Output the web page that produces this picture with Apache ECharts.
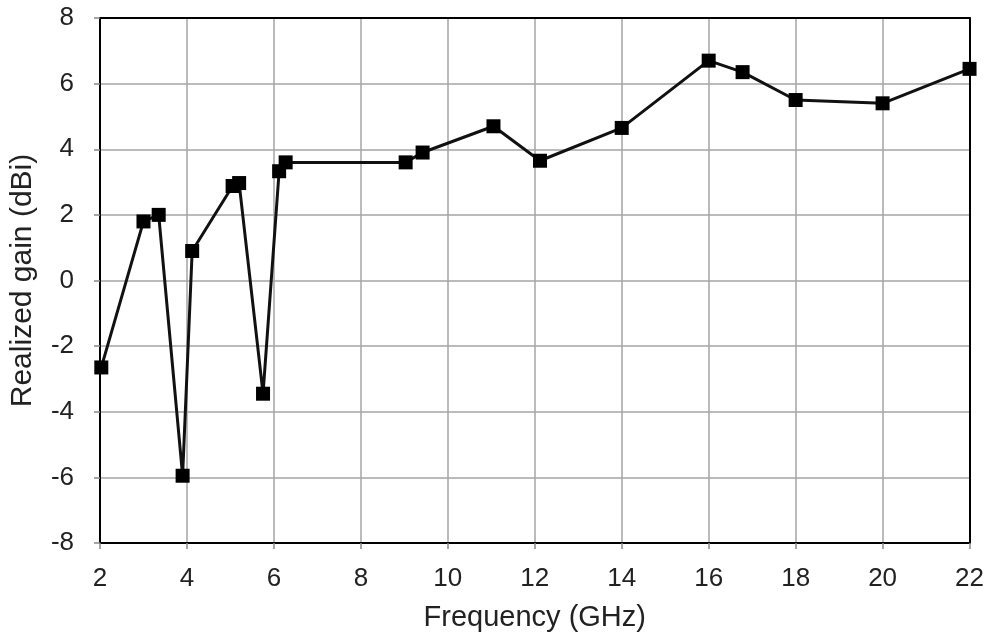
<!DOCTYPE html>
<html>
<head>
<meta charset="utf-8">
<script src="https://cdn.jsdelivr.net/npm/echarts@6/dist/echarts.min.js"></script>
<style>html,body{margin:0;padding:0;background:#fff;}#c{width:987px;height:637px;}</style>
</head>
<body>
<div id="c"></div>
<script>
const freq = [2.03, 3.0, 3.35, 3.9, 4.12, 5.05, 5.2, 5.75, 6.12, 6.27, 9.03, 9.42, 11.05, 12.12, 14.0, 16.0, 16.78, 18.0, 20.0, 22.0];
const gain = [-2.65, 1.8, 2.0, -5.95, 0.9, 2.88, 2.97, -3.45, 3.33, 3.6, 3.6, 3.9, 4.7, 3.65, 4.65, 6.7, 6.35, 5.5, 5.4, 6.45];
const xTicks = [2, 4, 6, 8, 10, 12, 14, 16, 18, 20, 22];
const yTicks = [-8, -6, -4, -2, 0, 2, 4, 6, 8];

const chart = echarts.init(document.getElementById('c'), null, {renderer: 'canvas'});
const font = 'Liberation Sans, Arial, sans-serif';
const xMin = xTicks[0], xMax = xTicks[xTicks.length - 1];
const yMin = yTicks[0], yMax = yTicks[yTicks.length - 1];
chart.setOption({
  animation: false,
  backgroundColor: '#fff',
  grid: {left: 100, right: 17, top: 18, bottom: 92, containLabel: false},
  xAxis: [{
    type: 'value', min: xMin, max: xMax, interval: 2,
    name: 'Frequency (GHz)', nameLocation: 'middle', nameGap: 60,
    nameTextStyle: {fontFamily: font, fontSize: 29, color: '#222'},
    axisLine: {show: true, onZero: false, lineStyle: {color: '#000', width: 2}},
    axisTick: {show: true, length: 6, lineStyle: {color: '#888', width: 1.5}},
    axisLabel: {fontFamily: font, fontSize: 26, color: '#222', margin: 23},
    splitLine: {show: true, showMinLine: false, showMaxLine: false, lineStyle: {color: '#a4a4a4', width: 1.5}},
    z: 3
  }, {
    type: 'value', position: 'top', min: xMin, max: xMax, interval: 2,
    axisLine: {show: true, onZero: false, lineStyle: {color: '#000', width: 2}},
    axisTick: {show: false}, axisLabel: {show: false}, splitLine: {show: false}, z: 3
  }],
  yAxis: [{
    type: 'value', min: yMin, max: yMax, interval: 2,
    name: 'Realized gain (dBi)', nameLocation: 'middle', nameGap: 62,
    nameTextStyle: {fontFamily: font, fontSize: 30, color: '#222'},
    axisLine: {show: true, onZero: false, lineStyle: {color: '#000', width: 2}},
    axisTick: {show: true, length: 6, lineStyle: {color: '#888', width: 1.5}},
    axisLabel: {fontFamily: font, fontSize: 26, color: '#222', margin: 26},
    splitLine: {show: true, showMinLine: false, showMaxLine: false, lineStyle: {color: '#a4a4a4', width: 1.5}},
    z: 3
  }, {
    type: 'value', position: 'right', min: yMin, max: yMax, interval: 2,
    axisLine: {show: true, onZero: false, lineStyle: {color: '#000', width: 2}},
    axisTick: {show: false}, axisLabel: {show: false}, splitLine: {show: false}, z: 3
  }],
  series: [{
    type: 'line',
    xAxisIndex: 0, yAxisIndex: 0,
    data: freq.map((f, i) => [f, gain[i]]),
    symbol: 'rect', symbolSize: 14,
    lineStyle: {color: '#111', width: 3},
    itemStyle: {color: '#000'},
    clip: false, z: 5
  }]
});
</script>
</body>
</html>
